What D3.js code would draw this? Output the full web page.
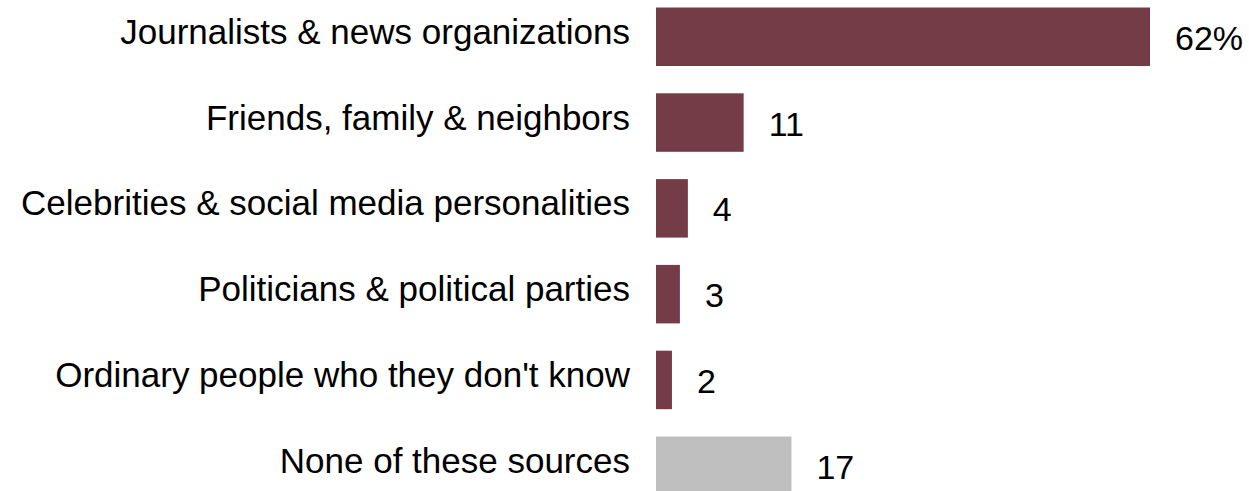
<!DOCTYPE html>
<html>
<head>
<meta charset="utf-8">
<script src="https://cdn.jsdelivr.net/npm/d3@7"></script>
<style>
  html, body { margin: 0; padding: 0; background: #fff; }
  svg { display: block; }
  text { font-family: "Liberation Sans", Arial, sans-serif; fill: #000; }
</style>
</head>
<body>
<svg id="chart" width="1249" height="491"></svg>
<script>
// Share of respondents naming each source
const categories = [
  "Journalists & news organizations",
  "Friends, family & neighbors",
  "Celebrities & social media personalities",
  "Politicians & political parties",
  "Ordinary people who they don't know",
  "None of these sources"
];
const values = [62, 11, 4, 3, 2, 17];
const valueLabels = ["62%", "11", "4", "3", "2", "17"];
const barColors = ["#733c46", "#733c46", "#733c46", "#733c46", "#733c46", "#bfbfbf"];

const svg = d3.select("#chart");
const barLeft = 656;
const firstBarTop = 7.5;
const rowStep = 85.8;
const barH = 58.5;

const x = d3.scaleLinear().domain([0, 62]).range([0, 494]);
const gap = rowStep - barH;
const y = d3.scaleBand()
  .domain(categories)
  .range([firstBarTop - gap / 2, firstBarTop - gap / 2 + rowStep * categories.length])
  .paddingInner(gap / rowStep)
  .paddingOuter(gap / rowStep / 2);

const rows = svg.selectAll("g.row")
  .data(categories.map((c, i) => ({ c, v: values[i], lab: valueLabels[i], col: barColors[i] })))
  .join("g")
  .attr("class", "row");

rows.append("rect")
  .attr("x", barLeft)
  .attr("y", d => y(d.c))
  .attr("width", d => x(d.v))
  .attr("height", y.bandwidth())
  .attr("fill", d => d.col);

// category names, right-aligned against the bars
rows.append("text")
  .attr("x", barLeft - 26)
  .attr("y", d => y(d.c) + y.bandwidth() / 2 + 7)
  .attr("text-anchor", "end")
  .style("font-size", "35px")
  .text(d => d.c);

// value labels just past each bar's end
rows.append("text")
  .attr("x", d => barLeft + x(d.v) + 25)
  .attr("y", d => y(d.c) + y.bandwidth() / 2 + 13)
  .attr("text-anchor", "start")
  .style("font-size", "34px")
  .text(d => d.lab);
</script>
</body>
</html>
